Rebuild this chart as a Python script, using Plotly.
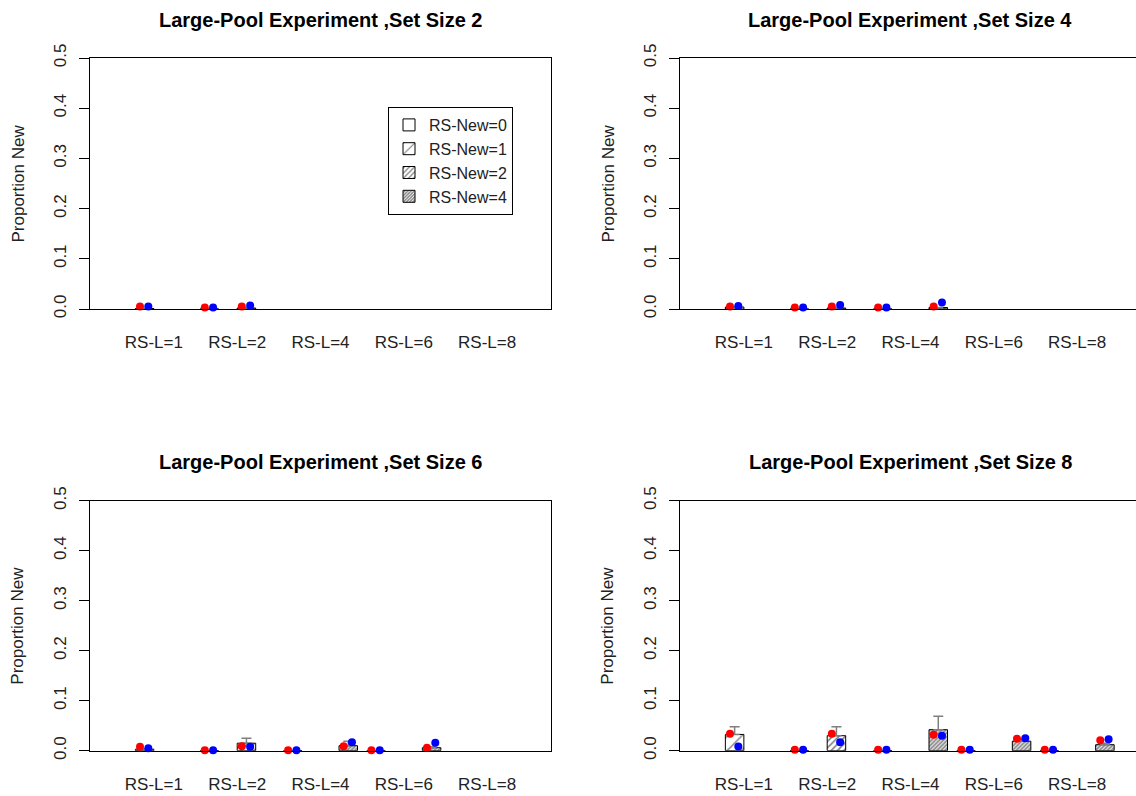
import plotly.graph_objects as go

# ---------------- data ----------------
rs_l_labels = ["RS-L=1", "RS-L=2", "RS-L=4", "RS-L=6", "RS-L=8"]
rs_new_labels = ["RS-New=0", "RS-New=1", "RS-New=2", "RS-New=4"]
set_sizes = [2, 4, 6, 8]
N = None

# bar heights: rows = RS-L groups, cols = RS-New levels
bar_ss2 = [[N, 0.001, N, N], [0.0, N, 0.002, N], [N, N, N, N], [N, N, N, N], [N, N, N, N]]
err_ss2 = [[N, N, N, N], [N, N, N, N], [N, N, N, N], [N, N, N, N], [N, N, N, N]]
red_ss2 = [[N, 0.005, N, N], [0.003, N, 0.005, N], [N, N, N, N], [N, N, N, N], [N, N, N, N]]
blue_ss2 = [[N, 0.005, N, N], [0.003, N, 0.007, N], [N, N, N, N], [N, N, N, N], [N, N, N, N]]

bar_ss4 = [[N, 0.004, N, N], [0.0, N, 0.002, N], [0.0, N, N, 0.003], [N, N, N, N], [N, N, N, N]]
err_ss4 = [[N, N, N, N], [N, N, N, N], [N, N, N, N], [N, N, N, N], [N, N, N, N]]
red_ss4 = [[N, 0.005, N, N], [0.003, N, 0.005, N], [0.003, N, N, 0.005], [N, N, N, N], [N, N, N, N]]
blue_ss4 = [[N, 0.006, N, N], [0.003, N, 0.008, N], [0.003, N, N, 0.013], [N, N, N, N], [N, N, N, N]]

bar_ss6 = [[N, 0.003, N, N], [0.0, N, 0.015, N], [0.0, N, N, 0.010], [0.0, N, N, 0.006], [N, N, N, N]]
err_ss6 = [[N, N, N, N], [N, N, 0.010, N], [N, N, N, 0.009], [N, N, N, 0.002], [N, N, N, N]]
red_ss6 = [[N, 0.008, N, N], [0.001, N, 0.009, N], [0.001, N, N, 0.009], [0.001, N, N, 0.006], [N, N, N, N]]
blue_ss6 = [[N, 0.005, N, N], [0.001, N, 0.008, N], [0.001, N, N, 0.017], [0.001, N, N, 0.016], [N, N, N, N]]

bar_ss8 = [[N, 0.0325, N, N], [0.0, N, 0.030, N], [0.0, N, N, 0.042], [0.0, N, N, 0.019], [0.0, N, N, 0.012]]
err_ss8 = [[N, 0.0155, N, N], [N, N, 0.018, N], [N, N, N, 0.027], [N, N, N, 0.004], [N, N, N, 0.003]]
red_ss8 = [[N, 0.034, N, N], [0.002, N, 0.034, N], [0.002, N, N, 0.032], [0.002, N, N, 0.024], [0.002, N, N, 0.021]]
blue_ss8 = [[N, 0.0085, N, N], [0.002, N, 0.017, N], [0.002, N, N, 0.030], [0.002, N, N, 0.025], [0.002, N, N, 0.023]]

y_ticks = [0.0, 0.1, 0.2, 0.3, 0.4, 0.5]
y_ticktext = ["0.0", "0.1", "0.2", "0.3", "0.4", "0.5"]

# ---------------- styling / layout ----------------
W, H = 1136, 796
FONT = "Liberation Sans, Arial, Helvetica, sans-serif"
GROUP_STEP = 4.5          # 4 bars + half-bar gap
XPAD = 1.45
pattern_size = [8, 10, 4.5, 2.8]
pattern_shape = ["", "/", "/", "/"]
pattern_solid = [0.2, 0.14, 0.35, 0.6]

def fx(p):
    return p / W

def fy(p):
    return 1 - p / H

panels = [
    dict(ss=2, bars=bar_ss2, errs=err_ss2, reds=red_ss2, blues=blue_ss2, left=90, top=58, bottom=309),
    dict(ss=4, bars=bar_ss4, errs=err_ss4, reds=red_ss4, blues=blue_ss4, left=680, top=58, bottom=309),
    dict(ss=6, bars=bar_ss6, errs=err_ss6, reds=red_ss6, blues=blue_ss6, left=90, top=500.7, bottom=750.7),
    dict(ss=8, bars=bar_ss8, errs=err_ss8, reds=red_ss8, blues=blue_ss8, left=680, top=500.7, bottom=750.7),
]
PANEL_W = 461

fig = go.Figure()
ngroups = len(rs_l_labels)
full_range = [-XPAD, (ngroups - 1) * GROUP_STEP + 4 + XPAD]
unit_px = PANEL_W / (full_range[1] - full_range[0])

for i, p in enumerate(panels):
    ax = "" if i == 0 else str(i + 1)
    xref, yref = "x" + ax, "y" + ax
    for b, lab in enumerate(rs_new_labels):
        xs = [g * GROUP_STEP + b + 0.5 for g in range(ngroups)]
        ys = [p["bars"][g][b] for g in range(ngroups)]
        es = [p["errs"][g][b] for g in range(ngroups)]
        em = [0 if e is not None else None for e in es]
        fig.add_trace(go.Bar(
            x=xs, y=ys, width=1, name=lab, xaxis=xref, yaxis=yref,
            legendgroup=lab, showlegend=(i == 0),
            marker=dict(color="white", line=dict(color="black", width=1),
                        pattern=dict(shape=pattern_shape[b], size=pattern_size[b],
                                     solidity=pattern_solid[b], fgcolor="black",
                                     bgcolor="white", fillmode="overlay")),
            error_y=dict(type="data", array=es, arrayminus=em, symmetric=False,
                         color="#7f7f7f", thickness=1.5, width=5),
        ))
    for key, col, off in (("reds", "#ff0000", -0.25), ("blues", "#0000ff", 0.2)):
        xs, ys = [], []
        for g in range(ngroups):
            for b in range(4):
                v = p[key][g][b]
                if v is not None:
                    xs.append(g * GROUP_STEP + b + 0.5 + off)
                    ys.append(v)
        fig.add_trace(go.Scatter(x=xs, y=ys, mode="markers", xaxis=xref, yaxis=yref,
                                 showlegend=False, cliponaxis=False,
                                 marker=dict(color=col, size=8, line=dict(width=0))))

    right_edge = p["left"] + PANEL_W
    vis_right = min(right_edge, W)
    xr = [full_range[0], full_range[1] - (right_edge - vis_right) / unit_px]
    is_left = p["left"] < 300
    fig.update_layout({
        "xaxis" + ax: dict(domain=[fx(p["left"]), fx(vis_right)], range=xr,
                           anchor=yref, tickvals=[g * GROUP_STEP + 2 for g in range(ngroups)],
                           ticktext=rs_l_labels, ticks="", showline=True, mirror=True,
                           linecolor="black", linewidth=1, showgrid=False, zeroline=False,
                           tickfont=dict(family=FONT, size=17, color="#222"),
                           ticklabelstandoff=18, fixedrange=True, automargin=False),
        "yaxis" + ax: dict(domain=[fy(p["bottom"]), fy(p["top"])], range=[0, 0.5],
                           anchor=xref, tickvals=y_ticks, ticktext=y_ticktext,
                           ticks="outside", ticklen=10, tickwidth=1, tickcolor="black",
                           tickangle=-90, showline=True, mirror=is_left,
                           linecolor="black", linewidth=1, showgrid=False, zeroline=False,
                           tickfont=dict(family=FONT, size=17, color="#222"),
                           ticklabelstandoff=6, fixedrange=True, automargin=False),
    })
    cx = p["left"] + PANEL_W / 2
    fig.add_annotation(text="<b>Large-Pool Experiment ,Set Size %d</b>" % p["ss"],
                       xref="paper", yref="paper", x=fx(cx), y=fy(p["top"] - 38.5),
                       xanchor="center", yanchor="middle", showarrow=False,
                       font=dict(family=FONT, size=20, color="black"))
    fig.add_annotation(text="Proportion New", textangle=-90,
                       xref="paper", yref="paper", x=fx(p["left"] - 72),
                       y=fy((p["top"] + p["bottom"]) / 2),
                       xanchor="center", yanchor="middle", showarrow=False,
                       font=dict(family=FONT, size=17, color="#222"))

fig.update_layout(
    width=W, height=H, margin=dict(l=0, r=0, t=0, b=0, autoexpand=False),
    paper_bgcolor="white", plot_bgcolor="white",
    barmode="overlay", font=dict(family=FONT, color="#222"),
    legend=dict(x=fx(388), y=fy(107), xanchor="left", yanchor="top",
                bordercolor="black", borderwidth=1, bgcolor="white",
                font=dict(family=FONT, size=16, color="#222"),
                tracegroupgap=0, itemwidth=30),
)

fig.write_html("out.html")
